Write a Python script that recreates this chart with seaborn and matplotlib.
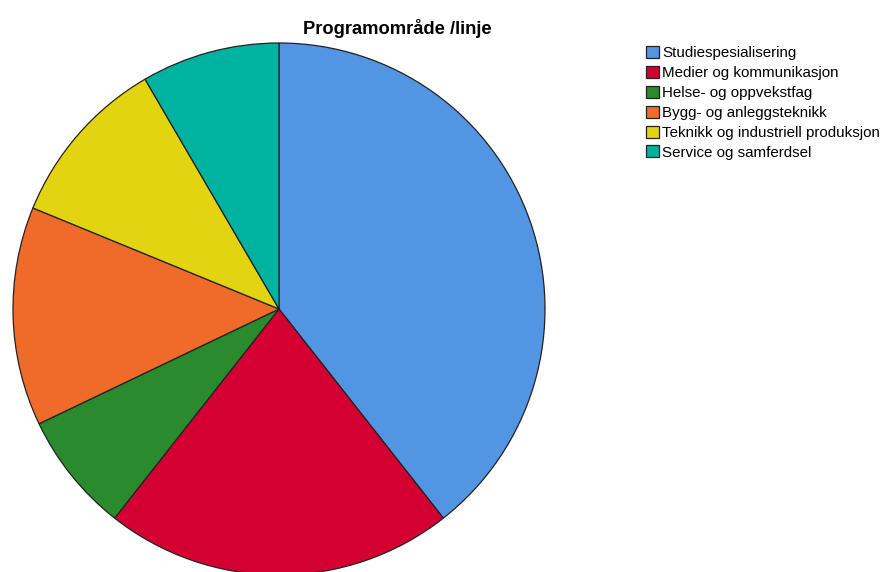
import matplotlib
matplotlib.use("Agg")
import matplotlib.pyplot as plt
import seaborn as sns
from matplotlib.patches import Patch

categories = ["Studiespesialisering", "Medier og kommunikasjon", "Helse- og oppvekstfag",
              "Bygg- og anleggsteknikk", "Teknikk og industriell produksjon", "Service og samferdsel"]
values = [39.4, 21.2, 7.3, 13.3, 10.4, 8.4]
hex_colors = ["#5295E2", "#D50032", "#2A8A2E", "#F06A2A", "#E3D412", "#00B2A0"]
title = "Programområde /linje"

sns.set_theme(style="white")
plt.rcParams["font.family"] = ["Liberation Sans", "DejaVu Sans"]
plt.rcParams["text.color"] = "black"
colors = sns.color_palette(hex_colors)

W, H = 883, 572
fig = plt.figure(figsize=(W / 100, H / 100), dpi=100)
ax = fig.add_axes([0, 0, 1, 1])
cx, cy, r = 279, H - 309, 266
ax.pie(values, colors=colors, startangle=90, counterclock=False, center=(cx, cy), radius=r,
       frame=True, wedgeprops=dict(edgecolor="#222222", linewidth=0.9))
ax.set_xlim(0, W)
ax.set_ylim(0, H)
ax.set_aspect("auto")
ax.axis("off")

fig.text(397 / W, 1 - 29 / H, title, ha="center", va="center", fontsize=13.2,
         fontweight="bold", color="black")

handles = [Patch(facecolor=c, edgecolor="#222222", linewidth=0.9) for c in colors]
leg = fig.legend(handles, categories, loc="upper left", bbox_to_anchor=(646 / W, 1 - 46 / H),
                 frameon=False, fontsize=10.9, handlelength=0.85, handleheight=0.85,
                 handletextpad=0.2, labelspacing=0.37, borderpad=0, borderaxespad=0)
for t in leg.get_texts():
    t.set_color("black")

fig.savefig("out.png", dpi=100)
